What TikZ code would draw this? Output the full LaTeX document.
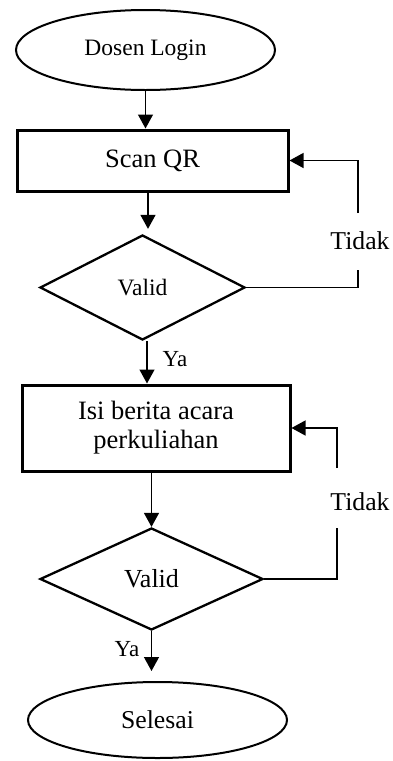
\documentclass[tikz,border=0pt]{standalone}
\usepackage{fontspec}
\setmainfont{Liberation Serif}
\usetikzlibrary{shapes.geometric}
\usetikzlibrary{arrows.meta}
\tikzset{>={Triangle[length=14pt,width=15pt]}}
\tikzset{terminal/.style = {shape=ellipse,draw,line width=2pt,inner sep=0pt}}
\tikzset{process/.style = {shape=rectangle,draw,line width=3pt,inner sep=0pt,align=center}}
\tikzset{decision/.style = {shape=diamond,draw,line width=2.3pt,inner sep=0pt}}
\tikzset{ket/.style = {inner sep=0pt,font=\fontsize{25.7}{30}\selectfont}}

\begin{document}
\begin{tikzpicture}[x=1pt,y=-1pt,line width=1.3pt]
                    \useasboundingbox (0,0) rectangle (392,761);
                    \node[terminal,minimum width=259pt,minimum height=80pt,font=\fontsize{23.5}{28}\selectfont] (login) at (145.5,50) {Dosen Login};
                    \node[process,minimum width=271pt,minimum height=61pt,font=\fontsize{26.5}{30}\selectfont] (scan) at (152.5,160.5) {Scan QR};
                    \node[decision,minimum width=205pt,minimum height=105pt,font=\fontsize{23.5}{28}\selectfont] (valid1) at (142.5,287.5) {Valid};
                    \node[process,minimum width=268pt,minimum height=86pt,font=\fontsize{26.5}{29}\selectfont] (isi) at (156,428) {Isi berita acara\\perkuliahan};
                    \node[decision,minimum width=223pt,minimum height=102pt,font=\fontsize{26}{30}\selectfont] (valid2) at (151.5,579) {Valid};
                    \node[terminal,minimum width=259pt,minimum height=76pt,font=\fontsize{25.7}{30}\selectfont] (selesai) at (157.5,720) {Selesai};

                    \node[ket] (tidak1) at (360,241) {Tidak};
                    \node[ket] (tidak2) at (360,502) {Tidak};
                    \node[ket,font=\fontsize{23}{28}\selectfont] (ya1) at (175,359) {Ya};
                    \node[ket,font=\fontsize{23}{28}\selectfont] (ya2) at (127,649) {Ya};

                    \coordinate (b1) at (358,270);
                    \coordinate (t1) at (358,213);
                    \coordinate (b2) at (337,528);
                    \coordinate (t2) at (337,468);

                    \draw[->] (login.south) -- (login.south |- scan.north);
                    \draw[->,shorten >=5pt] ([xshift=-4.5pt]scan.south) -- ([xshift=-4.5pt]scan.south |- valid1.north);
                    \draw (valid1.east) -| (b1);
                    \draw[->] (t1) |- (scan.east);
                    \draw[->] ([xshift=4.5pt]valid1.south) -- ([xshift=4.5pt]valid1.south |- isi.north);
                    \draw[->] (valid2.north |- isi.south) -- (valid2.north);
                    \draw (valid2.east) -| (b2);
                    \draw[->] (t2) |- (isi.east);
                    \draw[->,shorten >=10pt] (valid2.south) -- (valid2.south |- selesai.north);
                \end{tikzpicture}
\end{document}
